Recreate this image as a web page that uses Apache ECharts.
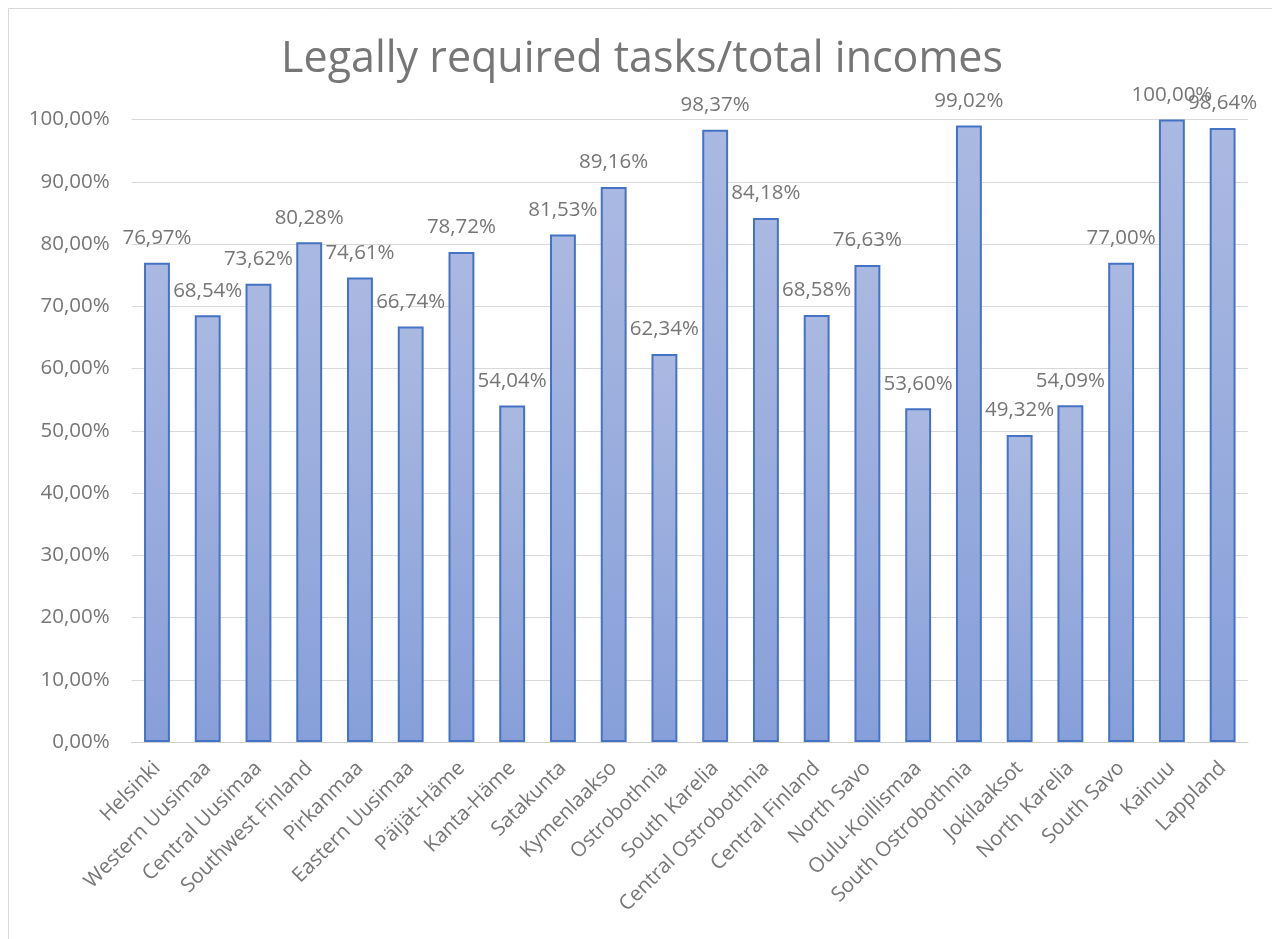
<!DOCTYPE html>
<html>
<head>
<meta charset="utf-8">
<script src="https://cdn.jsdelivr.net/npm/echarts@6/dist/echarts.min.js"></script>
<style>
  html, body { margin: 0; padding: 0; background: #ffffff; }
  #chart { width: 1272px; height: 939px; }
</style>
</head>
<body>
<div id="chart"></div>
<script>
// Regions (categories) and their share of legally required tasks in total incomes (%)
const regions = [
  'Helsinki', 'Western Uusimaa', 'Central Uusimaa', 'Southwest Finland', 'Pirkanmaa',
  'Eastern Uusimaa', 'Päijät-Häme', 'Kanta-Häme', 'Satakunta', 'Kymenlaakso',
  'Ostrobothnia', 'South Karelia', 'Central Ostrobothnia', 'Central Finland', 'North Savo',
  'Oulu-Koillismaa', 'South Ostrobothnia', 'Jokilaaksot', 'North Karelia', 'South Savo',
  'Kainuu', 'Lappland'
];
const shares = [
  76.97, 68.54, 73.62, 80.28, 74.61,
  66.74, 78.72, 54.04, 81.53, 89.16,
  62.34, 98.37, 84.18, 68.58, 76.63,
  53.60, 99.02, 49.32, 54.09, 77.00,
  100.00, 98.64
];
const yTicks = { min: 0, max: 100, interval: 10 };
const titleText = 'Legally required tasks/total incomes';

const FONT = '"Open Sans", "Noto Sans", sans-serif';
const GRAY = '#767676';
const pct = v => v.toFixed(2).replace('.', ',') + '%';

const chart = echarts.init(document.getElementById('chart'), null, { renderer: 'canvas' });
chart.setOption({
  backgroundColor: '#ffffff',
  animation: false,
  title: {
    text: titleText,
    left: 637,
    textAlign: 'center',
    top: 33,
    textStyle: { fontFamily: FONT, fontSize: 43, fontWeight: 'normal', color: GRAY }
  },
  graphic: [{
    type: 'rect',
    shape: { x: 8.5, y: 8.5, width: 1400, height: 1100 },
    style: { fill: 'none', stroke: '#d9d9d9', lineWidth: 1 },
    silent: true
  }],
  grid: { left: 131.6, right: 24, top: 119.5, bottom: 197, containLabel: false },
  xAxis: {
    type: 'category',
    data: regions,
    axisTick: { show: false },
    axisLine: { lineStyle: { color: '#d0d0d0', width: 1 } },
    axisLabel: {
      interval: 0, rotate: 45, margin: 23,
      fontFamily: FONT, fontSize: 20.5, color: GRAY
    }
  },
  yAxis: {
    type: 'value',
    min: yTicks.min, max: yTicks.max, interval: yTicks.interval,
    axisLine: { show: false },
    axisTick: { show: false },
    splitLine: { lineStyle: { color: '#d9d9d9', width: 1 } },
    axisLabel: {
      margin: 22, fontFamily: FONT, fontSize: 20.5, color: GRAY,
      formatter: v => pct(v)
    }
  },
  series: [{
    type: 'bar',
    data: shares,
    barWidth: '51%',
    itemStyle: {
      color: new echarts.graphic.LinearGradient(0, 0, 0, 1, [
        { offset: 0, color: '#aab9e1' },
        { offset: 1, color: '#879fd9' }
      ]),
      borderColor: '#4472c4',
      borderWidth: 2
    },
    label: {
      show: true, position: 'top', distance: 14,
      fontFamily: FONT, fontSize: 20.5, color: GRAY,
      formatter: p => pct(p.value)
    }
  }]
});
</script>
</body>
</html>
